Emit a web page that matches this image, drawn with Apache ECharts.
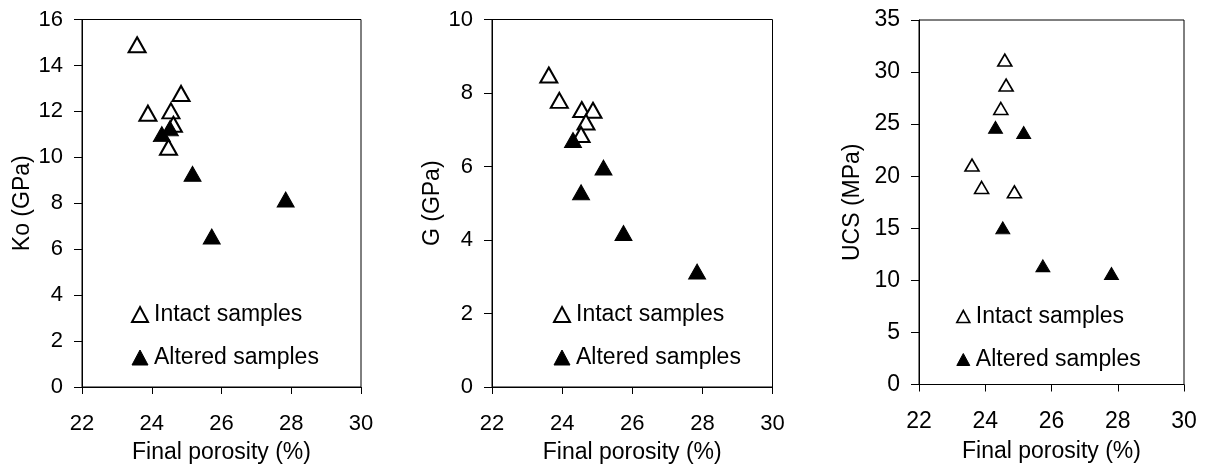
<!DOCTYPE html>
<html>
<head>
<meta charset="utf-8">
<script src="https://cdn.jsdelivr.net/npm/echarts@6/dist/echarts.min.js"></script>
<style>
  html, body { margin: 0; padding: 0; background: #fff; }
  #main { width: 1207px; height: 469px; }
</style>
</head>
<body>
<div id="main"></div>
<script>
  var koIntactX = [23.58, 24.84, 23.89, 24.55, 24.62, 24.48];
  var koIntactY = [14.9, 12.78, 11.92, 12.02, 11.44, 10.44];
  var koAlteredX = [24.29, 24.52, 25.17, 27.84, 25.72];
  var koAlteredY = [11.01, 11.26, 9.28, 8.16, 6.55];

  var gIntactX = [23.62, 23.92, 24.56, 24.88, 24.68, 24.54];
  var gIntactY = [8.49, 7.8, 7.55, 7.53, 7.21, 6.87];
  var gAlteredX = [24.31, 25.18, 24.54, 25.75, 27.85];
  var gAlteredY = [6.72, 5.97, 5.3, 4.19, 3.14];

  var ucsIntactX = [24.59, 24.63, 24.47, 23.6, 23.89, 24.88];
  var ucsIntactY = [31.15, 28.75, 26.5, 21.07, 18.92, 18.5];
  var ucsAlteredX = [24.31, 25.16, 24.53, 25.74, 27.81];
  var ucsAlteredY = [24.69, 24.2, 15.04, 11.39, 10.66];

  var yNames = ['Ko (GPa)', 'G (GPa)', 'UCS (MPa)'];
  var yMax = [16, 10, 35];
  var yStep = [2, 2, 5];
  var xName = 'Final porosity (%)';

  function pairs(xs, ys) {
    return xs.map(function (x, i) { return [x, ys[i]]; });
  }

  var font = 'Liberation Sans, Arial, sans-serif';
  var grids = [
    { left: 82, top: 19.5, width: 279, height: 370.5 },
    { left: 492, top: 19.5, width: 280.5, height: 370 },
    { left: 919, top: 20, width: 265, height: 364.5 }
  ];
  var tickFont = [22, 22, 23];
  var symSize = [[17, 15], [17, 15], [14, 12]];
  var border = [2, 2, 1.6];

  var chart = echarts.init(document.getElementById('main'));

  var xAxes = [], yAxes = [], series = [], legends = [];
  var sets = [
    [pairs(koIntactX, koIntactY), pairs(koAlteredX, koAlteredY)],
    [pairs(gIntactX, gIntactY), pairs(gAlteredX, gAlteredY)],
    [pairs(ucsIntactX, ucsIntactY), pairs(ucsAlteredX, ucsAlteredY)]
  ];
  var legendPos = [[131, 303], [553, 303], [956, 305]];
  var iconSize = [[16, 15], [16, 15], [13, 12]];

  grids.forEach(function (g, i) {
    g.show = true;
    g.borderColor = '#000';
    g.borderWidth = 1;
    xAxes.push({
      gridIndex: i, type: 'value', min: 22, max: 30, interval: 2,
      name: xName, nameLocation: 'middle', nameGap: i == 2 ? 56 : 54,
      nameTextStyle: { fontFamily: font, fontSize: 23, color: '#000' },
      axisLine: { show: true, lineStyle: { color: '#000', width: 1 } },
      axisTick: { show: true, inside: false, length: 7, lineStyle: { color: '#000' } },
      axisLabel: { fontFamily: font, fontSize: tickFont[i], color: '#000', margin: 26 },
      splitLine: { show: false }
    });
    yAxes.push({
      gridIndex: i, type: 'value', min: 0, max: yMax[i], interval: yStep[i],
      name: yNames[i], nameLocation: 'middle', nameGap: i == 2 ? 55 : 48,
      nameTextStyle: { fontFamily: font, fontSize: 23, color: '#000' },
      axisLine: { show: true, lineStyle: { color: '#000', width: 1 } },
      axisTick: { show: true, inside: false, length: 8, lineStyle: { color: '#000' } },
      axisLabel: { fontFamily: font, fontSize: tickFont[i], color: '#000', margin: 19 },
      splitLine: { show: false }
    });
    series.push({
      name: 'Intact samples', type: 'scatter', xAxisIndex: i, yAxisIndex: i,
      symbol: 'triangle', symbolSize: symSize[i],
      itemStyle: { color: '#fff', borderColor: '#000', borderWidth: border[i], opacity: 1 },
      data: sets[i][0], z: 2
    });
    series.push({
      name: 'Altered samples', type: 'scatter', xAxisIndex: i, yAxisIndex: i,
      symbol: 'triangle', symbolSize: symSize[i],
      itemStyle: { color: '#000', borderColor: '#000', borderWidth: 1, opacity: 1 },
      data: sets[i][1], z: 3
    });
    legends.push({
      orient: 'vertical', left: legendPos[i][0], top: legendPos[i][1],
      padding: 0, itemGap: 20,
      itemWidth: iconSize[i][0], itemHeight: iconSize[i][1],
      textStyle: { fontFamily: font, fontSize: 23, color: '#000', padding: [0, 0, 0, 1] },
      selectedMode: false,
      data: [
        { name: 'Intact samples', icon: 'triangle',
          itemStyle: { color: '#fff', borderColor: '#000', borderWidth: border[i] } },
        { name: 'Altered samples', icon: 'triangle',
          itemStyle: { color: '#000', borderColor: '#000', borderWidth: 1 } }
      ]
    });
  });

  chart.setOption({
    animation: false,
    grid: grids,
    xAxis: xAxes,
    yAxis: yAxes,
    legend: legends,
    tooltip: {},
    series: series
  });
</script>
</body>
</html>
